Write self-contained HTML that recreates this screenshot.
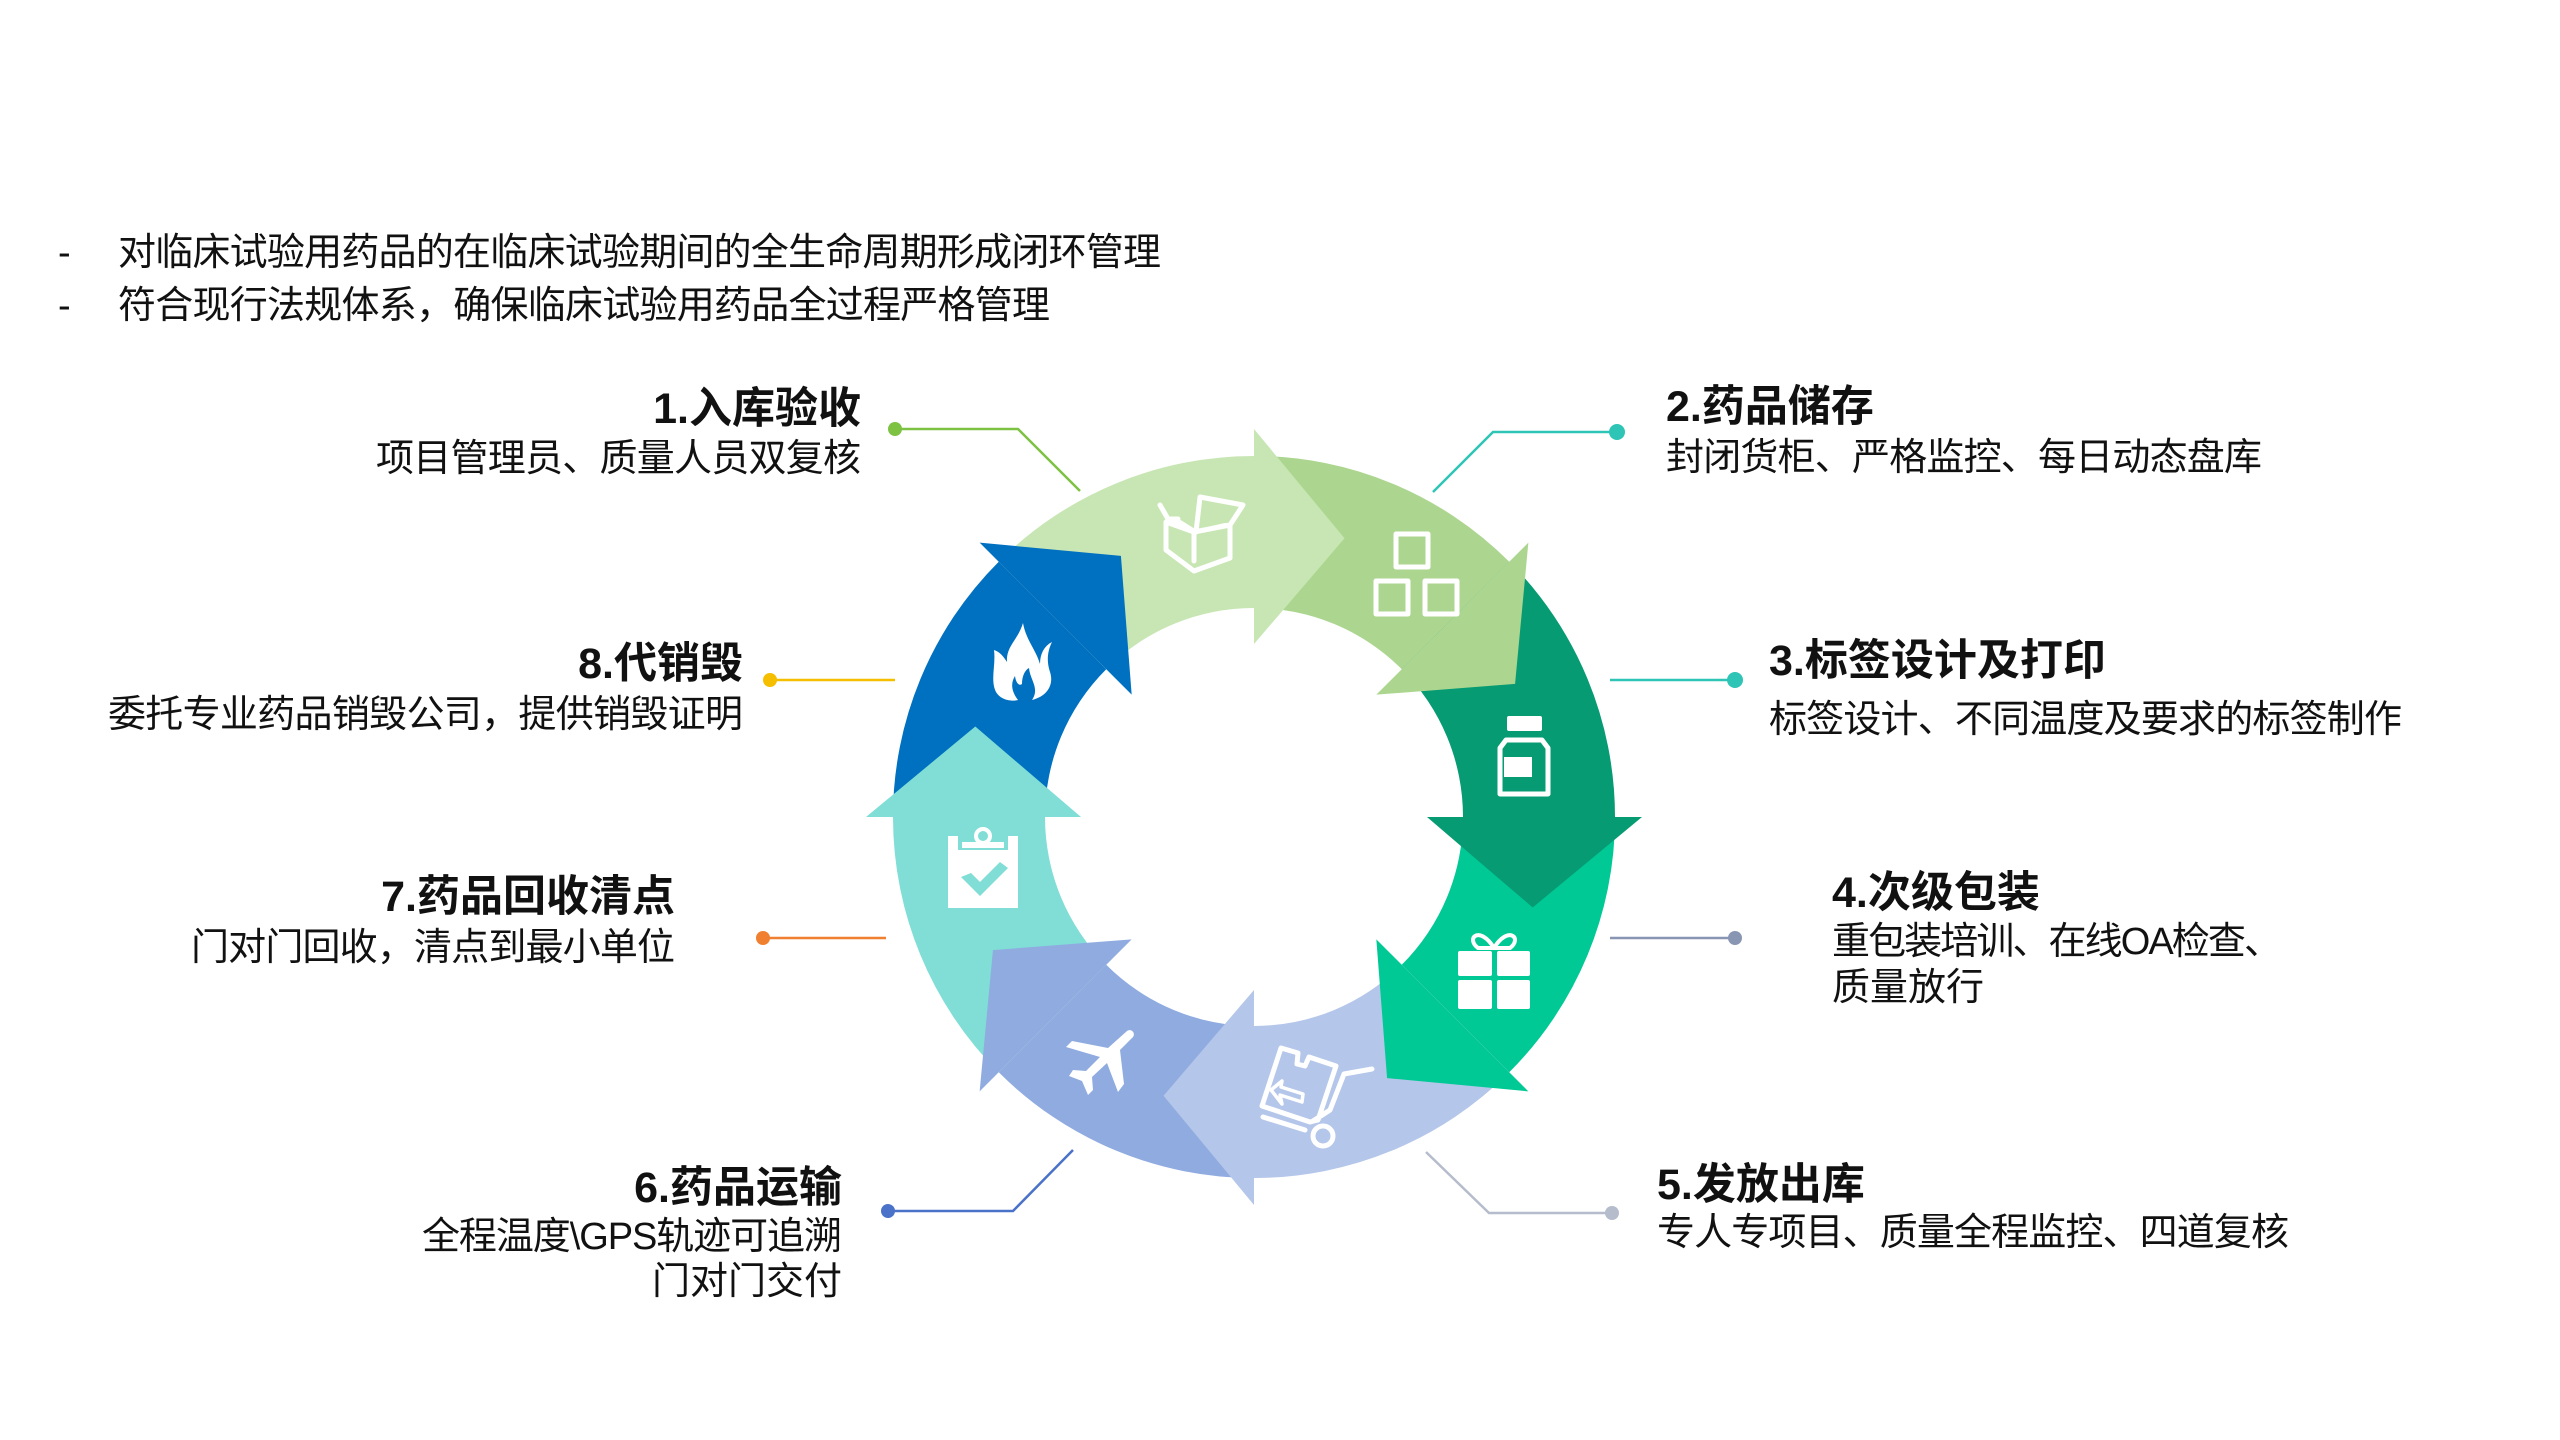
<!DOCTYPE html>
<html><head><meta charset="utf-8"><style>
html,body{margin:0;padding:0;background:#fff;}
svg{display:block;}
text{font-family:"Liberation Sans","Noto Sans CJK SC",sans-serif;fill:#111;}
.t{font-weight:bold;font-size:43px;}
.s{font-size:38px;}
</style></head><body>
<svg width="2560" height="1440" viewBox="0 0 2560 1440" xmlns="http://www.w3.org/2000/svg">
<rect width="2560" height="1440" fill="#fff"/>
<text class="s" x="58" y="265">-</text>
<text class="s" x="118" y="265" textLength="1043">对临床试验用药品的在临床试验期间的全生命周期形成闭环管理</text>
<text class="s" x="58" y="318">-</text>
<text class="s" x="118" y="318" textLength="932">符合现行法规体系，确保临床试验用药品全过程严格管理</text>

<defs>
<path id="body" d="M998.7,561.7 A361,361 0 0 1 1254,456 L1254,608 A209,209 0 0 0 1106.2,669.2 Z"/>
<path id="head" d="M1254,429 L1344.5,538.3 L1254,644 Z"/>
</defs>
<use href="#body" fill="#c8e6b4"/>
<use href="#body" fill="#acd68f" transform="rotate(45 1254 817)"/>
<use href="#body" fill="#079b73" transform="rotate(90 1254 817)"/>
<use href="#body" fill="#00c995" transform="rotate(135 1254 817)"/>
<use href="#body" fill="#b4c6e9" transform="rotate(180 1254 817)"/>
<use href="#body" fill="#8fabe0" transform="rotate(225 1254 817)"/>
<use href="#body" fill="#80ded6" transform="rotate(270 1254 817)"/>
<use href="#body" fill="#0070c0" transform="rotate(315 1254 817)"/>
<use href="#head" fill="#c8e6b4"/>
<use href="#head" fill="#acd68f" transform="rotate(45 1254 817)"/>
<use href="#head" fill="#079b73" transform="rotate(90 1254 817)"/>
<use href="#head" fill="#00c995" transform="rotate(135 1254 817)"/>
<use href="#head" fill="#b4c6e9" transform="rotate(180 1254 817)"/>
<use href="#head" fill="#8fabe0" transform="rotate(225 1254 817)"/>
<use href="#head" fill="#80ded6" transform="rotate(270 1254 817)"/>
<use href="#head" fill="#0070c0" transform="rotate(315 1254 817)"/>

<g fill="none" stroke="#fff" stroke-width="5" stroke-linejoin="round" stroke-linecap="round">
  <path d="M1166,522 L1166,550 L1194,571 L1230,558 L1230,525 L1194,532 Z M1194,532 L1194,561"/>
  <path d="M1160,505 L1168,519 L1192,531 M1168,519 L1178,519 M1196,532 L1200,497 L1243,505 L1230,525"/>
  <path d="M1180,522 L1196,532 L1225,525" stroke-width="4"/>
  <rect x="1396" y="534" width="32" height="33"/>
  <rect x="1376" y="581" width="32" height="33"/>
  <rect x="1425" y="581" width="32" height="33"/>
  <path d="M1506,740 L1500,748 L1500,794 L1548,794 L1548,748 L1542,740 Z"/>
  <path d="M1281,1048 L1298,1053 L1297,1064 L1305,1066 L1309,1057 L1336,1066 L1318,1120 L1310,1122 L1262,1106 Z"/>
  <path d="M1263,1117 L1305,1130 M1313,1121 L1330,1110 L1344,1074 L1372,1069"/>
  <circle cx="1323" cy="1136" r="10"/>
  <path d="M1281,1087 L1303,1094 L1302,1102 L1280,1095 L1282,1104 L1271,1090 L1282,1081 Z" stroke-width="3.5"/>
</g>
<g fill="#fff">
  <rect x="1507" y="716" width="35" height="15" rx="2"/>
  <rect x="1504" y="757" width="28" height="20"/>
  <rect x="1458" y="951" width="34" height="25" rx="2"/>
  <rect x="1497" y="951" width="33" height="25" rx="2"/>
  <rect x="1458" y="980" width="34" height="29" rx="2"/>
  <rect x="1497" y="980" width="33" height="29" rx="2"/>
  <path d="M1494,948 C1480,925 1465,938 1478,948 Z M1494,948 C1508,925 1523,938 1510,948 Z" fill="none" stroke="#fff" stroke-width="4"/>
  <path d="M948,836 L958,836 L958,850 L1008,850 L1008,836 L1018,836 L1018,908 L948,908 Z"/>
  <rect x="962" y="842" width="42" height="6"/>
  <circle cx="983" cy="836" r="7" fill="none" stroke="#fff" stroke-width="4"/>
  <path d="M961,877 L971,873 L980,882 L1000,862 L1008,868 L980,896 Z" fill="#80ded6"/>
  <path d="M1023,623 C1018,640 1006,646 1007,662 C1003,656 1000,652 994,650 C996,665 990,680 996,692 C1002,702 1015,701 1018,700 C1012,692 1010,684 1015,676 C1016,684 1020,686 1022,684 C1022,676 1025,670 1029,668 C1030,680 1040,688 1032,700 C1048,696 1054,684 1050,672 C1046,660 1048,650 1052,642 C1044,646 1040,654 1040,664 C1036,650 1026,640 1023,623 Z"/>
  <path d="M1127,1031 C1131,1028 1136,1033 1133,1037 L1120,1050 L1124,1084 L1118,1092 L1107,1063 L1092,1077 L1093,1090 L1088,1095 L1082,1081 L1069,1076 L1073,1070 L1086,1071 L1100,1057 L1066,1047 L1072,1041 L1108,1048 Z"/>
</g>

<g fill="none" stroke-width="2.5">
  <path d="M895,429 L1018,429 L1080,491" stroke="#7dc242"/>
  <path d="M1617,432 L1493,432 L1433,492" stroke="#2ec4b6"/>
  <path d="M1610,680 L1735,680" stroke="#2ec4b6"/>
  <path d="M1610,938 L1735,938" stroke="#8896b3"/>
  <path d="M1612,1213 L1489,1213 L1426,1152" stroke="#b5bccb"/>
  <path d="M888,1211 L1013,1211 L1073,1150" stroke="#4a72c8"/>
  <path d="M763,938 L886,938" stroke="#f08030"/>
  <path d="M770,680 L895,680" stroke="#f5bf00"/>
</g>
<circle cx="895" cy="429" r="7" fill="#7dc242"/>
<circle cx="1617" cy="432" r="8" fill="#2ec4b6"/>
<circle cx="1735" cy="680" r="8" fill="#2ec4b6"/>
<circle cx="1735" cy="938" r="7" fill="#8896b3"/>
<circle cx="1612" cy="1213" r="7" fill="#b5bccb"/>
<circle cx="888" cy="1211" r="7" fill="#4a72c8"/>
<circle cx="763" cy="938" r="7" fill="#f08030"/>
<circle cx="770" cy="680" r="7" fill="#f5bf00"/>

<text class="t" x="861" y="423" text-anchor="end">1.入库验收</text>
<text class="s" x="861" y="471" text-anchor="end" textLength="485">项目管理员、质量人员双复核</text>
<text class="t" x="743" y="678" text-anchor="end">8.代销毁</text>
<text class="s" x="743" y="727" text-anchor="end" textLength="635">委托专业药品销毁公司，提供销毁证明</text>
<text class="t" x="675" y="911" text-anchor="end">7.药品回收清点</text>
<text class="s" x="675" y="960" text-anchor="end" textLength="484">门对门回收，清点到最小单位</text>
<text class="t" x="842" y="1202" text-anchor="end">6.药品运输</text>
<text class="s" x="842" y="1249" text-anchor="end" textLength="420">全程温度\GPS轨迹可追溯</text>
<text class="s" x="842" y="1294" text-anchor="end">门对门交付</text>

<text class="t" x="1666" y="421">2.药品储存</text>
<text class="s" x="1666" y="470" textLength="596">封闭货柜、严格监控、每日动态盘库</text>
<text class="t" x="1769" y="675">3.标签设计及打印</text>
<text class="s" x="1769" y="732" textLength="633">标签设计、不同温度及要求的标签制作</text>
<text class="t" x="1832" y="907">4.次级包装</text>
<text class="s" x="1832" y="954" textLength="450">重包装培训、在线OA检查、</text>
<text class="s" x="1832" y="1000">质量放行</text>
<text class="t" x="1657" y="1199">5.发放出库</text>
<text class="s" x="1657" y="1245" textLength="632">专人专项目、质量全程监控、四道复核</text>
</svg>
</body></html>
